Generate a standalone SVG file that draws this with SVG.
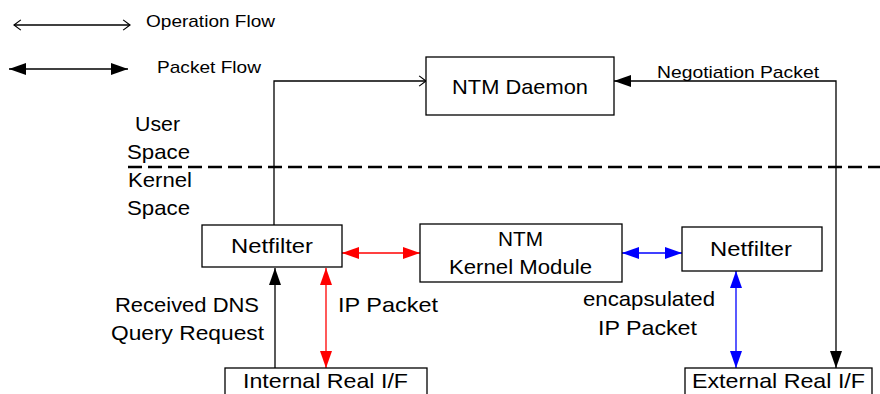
<svg xmlns="http://www.w3.org/2000/svg" width="880" height="394" viewBox="0 0 880 394">
<style>
  .box { fill: #fff; stroke: #000; stroke-width: 1.3; }
  .t { font-family: "Liberation Sans", Arial, sans-serif; font-size: 21px; fill: #000; }
  .s { font-family: "Liberation Sans", Arial, sans-serif; font-size: 17px; fill: #000; }
  .ln { fill: none; stroke: #000; stroke-width: 1.3; }
  .red { fill: none; stroke: #f00; stroke-width: 1.3; }
  .blue { fill: none; stroke: #00f; stroke-width: 1.3; }
</style>
<defs>
  <marker id="open" viewBox="0 0 10 14" refX="9" refY="7" markerWidth="9" markerHeight="12" markerUnits="userSpaceOnUse" orient="auto-start-reverse">
    <path d="M1,1 L9,7 L1,13" fill="none" stroke="#000" stroke-width="1.4"/>
  </marker>
  <marker id="fillK" viewBox="0 0 17 12" refX="17" refY="6" markerWidth="17" markerHeight="12" markerUnits="userSpaceOnUse" orient="auto-start-reverse">
    <path d="M0,0 L17,6 L0,12 Z" fill="#000"/>
  </marker>
  <marker id="fillR" viewBox="0 0 17 12" refX="17" refY="6" markerWidth="17" markerHeight="12" markerUnits="userSpaceOnUse" orient="auto-start-reverse">
    <path d="M0,0 L17,6 L0,12 Z" fill="#f00"/>
  </marker>
  <marker id="fillB" viewBox="0 0 17 12" refX="17" refY="6" markerWidth="17" markerHeight="12" markerUnits="userSpaceOnUse" orient="auto-start-reverse">
    <path d="M0,0 L17,6 L0,12 Z" fill="#00f"/>
  </marker>
</defs>

<!-- legend -->
<g id="legend">
  <line class="ln" x1="14" y1="25" x2="130" y2="25" marker-start="url(#open)" marker-end="url(#open)"/>
  <text class="s" x="146" y="27" textLength="129" lengthAdjust="spacingAndGlyphs">Operation Flow</text>
  <line class="ln" x1="9" y1="69" x2="128" y2="69" marker-start="url(#fillK)" marker-end="url(#fillK)"/>
  <text class="s" x="157" y="73" textLength="104" lengthAdjust="spacingAndGlyphs">Packet Flow</text>
</g>

<!-- user / kernel boundary -->
<g id="boundary">
  <line x1="128" y1="167" x2="880" y2="167" stroke="#000" stroke-width="2.6" stroke-dasharray="14,6"/>
  <text class="t" x="135" y="131" textLength="45" lengthAdjust="spacingAndGlyphs">User</text>
  <text class="t" x="127" y="159" textLength="63" lengthAdjust="spacingAndGlyphs">Space</text>
  <text class="t" x="128" y="187" textLength="64" lengthAdjust="spacingAndGlyphs">Kernel</text>
  <text class="t" x="127" y="215" textLength="63" lengthAdjust="spacingAndGlyphs">Space</text>
</g>

<!-- connectors -->
<g id="connectors">
  <polyline class="ln" points="274,225 274,81 426,81" marker-end="url(#open)"/>
  <polyline class="ln" points="836,368 836,81 614,81" marker-start="url(#fillK)" marker-end="url(#fillK)"/>
  <text class="s" x="657" y="78" textLength="162" lengthAdjust="spacingAndGlyphs">Negotiation Packet</text>
  <line class="red" x1="342" y1="253" x2="420" y2="253" marker-start="url(#fillR)" marker-end="url(#fillR)"/>
  <line class="blue" x1="622" y1="253" x2="682" y2="253" marker-start="url(#fillB)" marker-end="url(#fillB)"/>
  <line class="ln" x1="275" y1="368" x2="275" y2="268" marker-end="url(#fillK)"/>
  <line class="red" x1="326" y1="268" x2="326" y2="368" marker-start="url(#fillR)" marker-end="url(#fillR)"/>
  <line class="blue" x1="736" y1="271" x2="736" y2="368" marker-start="url(#fillB)" marker-end="url(#fillB)"/>
  <text class="t" x="115" y="312" textLength="144" lengthAdjust="spacingAndGlyphs">Received DNS</text>
  <text class="t" x="111" y="340" textLength="153" lengthAdjust="spacingAndGlyphs">Query Request</text>
  <text class="t" x="338" y="312" textLength="100" lengthAdjust="spacingAndGlyphs">IP Packet</text>
  <text class="t" x="583" y="306" textLength="132" lengthAdjust="spacingAndGlyphs">encapsulated</text>
  <text class="t" x="598" y="335" textLength="99" lengthAdjust="spacingAndGlyphs">IP Packet</text>
</g>

<g id="ntm-daemon">
  <rect class="box" x="426" y="57" width="188" height="58"/>
  <text class="t" x="452" y="94" textLength="136" lengthAdjust="spacingAndGlyphs">NTM Daemon</text>
</g>

<g id="netfilter-left">
  <rect class="box" x="202" y="225" width="140" height="42"/>
  <text class="t" x="231" y="253" textLength="82" lengthAdjust="spacingAndGlyphs">Netfilter</text>
</g>

<g id="ntm-kernel-module">
  <rect class="box" x="420" y="224" width="202" height="58"/>
  <text class="t" x="498" y="246" textLength="45" lengthAdjust="spacingAndGlyphs">NTM</text>
  <text class="t" x="449" y="274" textLength="143" lengthAdjust="spacingAndGlyphs">Kernel Module</text>
</g>

<g id="netfilter-right">
  <rect class="box" x="682" y="227" width="140" height="44"/>
  <text class="t" x="710" y="256" textLength="82" lengthAdjust="spacingAndGlyphs">Netfilter</text>
</g>

<g id="internal-if">
  <rect class="box" x="225" y="368" width="202" height="40"/>
  <text class="t" x="243" y="388" textLength="165" lengthAdjust="spacingAndGlyphs">Internal Real I/F</text>
</g>

<g id="external-if">
  <rect class="box" x="685" y="368" width="187" height="40"/>
  <text class="t" x="692" y="388" textLength="173" lengthAdjust="spacingAndGlyphs">External Real I/F</text>
</g>
</svg>
